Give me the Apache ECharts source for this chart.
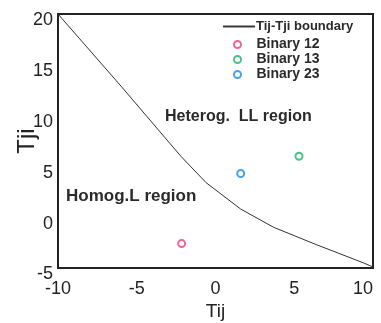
<!DOCTYPE html>
<html>
<head>
<meta charset="utf-8">
<script src="https://cdn.jsdelivr.net/npm/echarts@6/dist/echarts.min.js"></script>
<style>
html,body{margin:0;padding:0;background:#fff;}
#chart{width:381px;height:323px;}
</style>
</head>
<body>
<div id="chart"></div>
<script>
// Data
var boundaryX = [-10, -6, -2.2, -0.6, 1.6, 3.7, 6.4, 9.4, 10];
var boundaryY = [20, 12.9, 6.0, 3.4, 0.8, -1.0, -2.7, -4.5, -4.9];
var binary12 = [[-2.15, -2.6]];
var binary13 = [[5.3, 6.0]];
var binary23 = [[1.6, 4.3]];
var seriesNames = ['Tij-Tji boundary', 'Binary 12', 'Binary 13', 'Binary 23'];
var annotations = ['Heterog.  LL region', 'Homog.L region'];

var boundary = boundaryX.map(function (x, i) { return [x, boundaryY[i]]; });
var font = '"Liberation Sans", Arial, sans-serif';

var chart = echarts.init(document.getElementById('chart'), null, {renderer: 'canvas'});
function scatterSeries(name, data, color) {
  return {
    name: name, type: 'scatter', data: data,
    symbol: 'emptyCircle', symbolSize: 7,
    itemStyle: {color: color, borderColor: color, borderWidth: 2.6},
    z: 5
  };
}
chart.setOption({
  animation: false,
  backgroundColor: '#fff',
  grid: {left: 58, right: 8, top: 14, bottom: 55, show: true, borderColor: '#222', borderWidth: 2, backgroundColor: 'transparent', outerBoundsMode: 'none', containLabel: false},
  xAxis: {
    type: 'value', min: -10, max: 10, interval: 5,
    name: 'Tij', nameLocation: 'middle', nameGap: 34, nameMoveOverlap: false,
    nameTextStyle: {fontFamily: font, fontSize: 19, color: '#222'},
    axisLine: {show: false}, axisTick: {show: false}, splitLine: {show: false},
    axisLabel: {fontFamily: font, fontSize: 18, color: '#222', margin: 12, alignMaxLabel: 'right'}
  },
  yAxis: {
    type: 'value', min: -5, max: 20, interval: 5,
    name: 'Tji', nameLocation: 'middle', nameGap: 19, nameRotate: 90, nameMoveOverlap: false,
    nameTextStyle: {fontFamily: font, fontSize: 24, color: '#222'},
    axisLine: {show: false}, axisTick: {show: false}, splitLine: {show: false},
    axisLabel: {fontFamily: font, fontSize: 18, color: '#222', margin: 5, verticalAlign: 'top', lineHeight: 13}
  },
  legend: [
    {
      data: [{name: seriesNames[0], icon: 'path://M0,0L1,0L1,0.06L0,0.06Z'}],
      left: 223, top: 20, padding: 0, itemWidth: 32, itemHeight: 2,
      textStyle: {fontFamily: font, fontSize: 13, fontWeight: 'bold', color: '#2a2a2a', padding: [0, 0, 0, -4]}
    },
    {
      data: seriesNames.slice(1), orient: 'vertical',
      left: 233, top: 37, padding: 0, itemWidth: 28, itemHeight: 7, itemGap: 0,
      textStyle: {fontFamily: font, fontSize: 14, fontWeight: 'bold', color: '#2a2a2a', lineHeight: 15, padding: [0, 0, 0, 0]}
    }
  ],
  series: [
    {
      name: seriesNames[0], type: 'line', data: boundary,
      symbol: 'none', lineStyle: {color: '#333', width: 1}, itemStyle: {color: '#333'}, z: 3
    },
    scatterSeries(seriesNames[1], binary12, '#f03c7a'),
    scatterSeries(seriesNames[2], binary13, '#17b46a'),
    scatterSeries(seriesNames[3], binary23, '#1a8be6')
  ],
  graphic: [
    {type: 'text', left: 165, top: 109, style: {text: annotations[0], font: 'bold 16px ' + font, fill: '#2a2a2a'}},
    {type: 'text', left: 66, top: 188, style: {text: annotations[1], font: 'bold 17px ' + font, fill: '#2a2a2a'}}
  ]
});
</script>
</body>
</html>
